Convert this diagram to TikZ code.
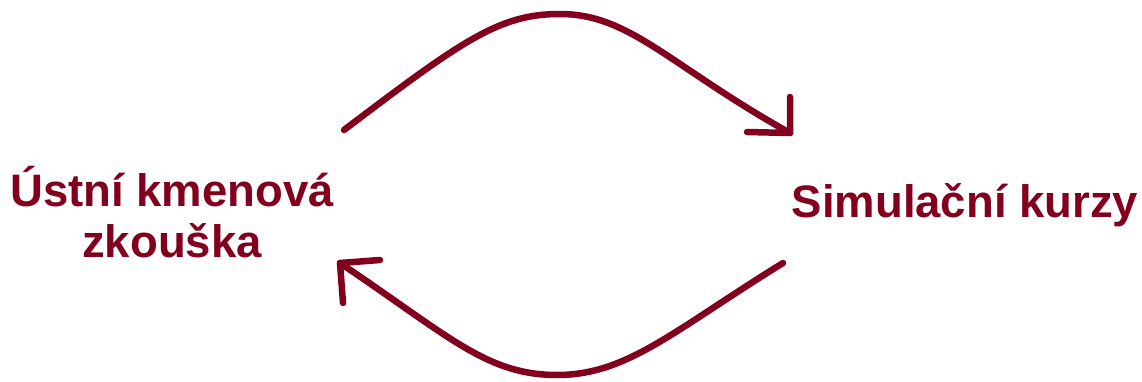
\documentclass[tikz,border=0pt]{standalone}
\usepackage{fontspec}
\setmainfont{Liberation Sans}
\usetikzlibrary{positioning}
\definecolor{cyclered}{HTML}{82001E}

\begin{document}
\begin{tikzpicture}[x=1pt, y=-1pt, every node/.style={inner sep=0pt},
  stagetext/.style={font=\fontsize{45.5}{51}\selectfont\bfseries, text=cyclered, anchor=base},
  arcline/.style={draw=cyclered, line width=6.5pt, line cap=round, line join=round}]
  \useasboundingbox (0,0) rectangle (1142,382);
  \node[stagetext, align=center] (exam) at (172,257) {Ústní kmenová\\zkouška};
  \node[stagetext] (courses) at (965,217) {Simulační kurzy};
  % arc ends and turning points
  \coordinate (topA) at (344,130);
  \coordinate (topM) at (560,14);
  \coordinate (topB) at (790,133);
  \coordinate (botA) at (783,263);
  \coordinate (botM) at (557,375);
  \coordinate (botB) at (340,263);
  % upper arc, exam -> courses
  \draw[arcline] (topA) .. controls (464,39) and (500,14) .. (topM)
                        .. controls (630,14) and (670,66) .. (topB);
  \draw[arcline] (topB) ++(0,-36) -- (topB) -- ++(-43,-1);
  % lower arc, courses -> exam
  \draw[arcline] (botA) .. controls (673,331) and (627,375) .. (botM)
                        .. controls (487,375) and (450,337) .. (botB);
  \draw[arcline] (botB) ++(40,-3) -- (botB) -- ++(3,40);
\end{tikzpicture}
\end{document}
